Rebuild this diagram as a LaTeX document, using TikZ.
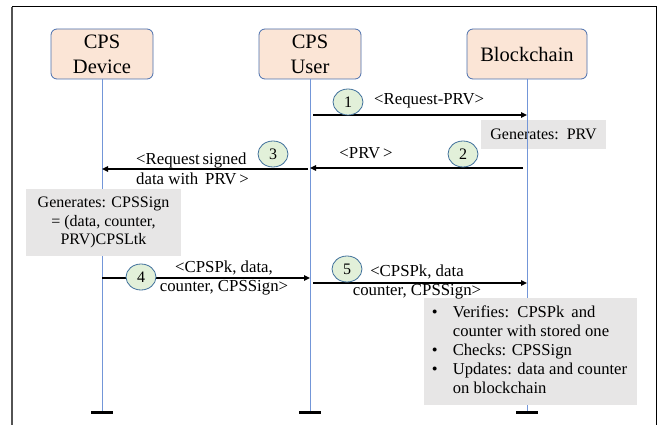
\documentclass[tikz,border=0pt]{standalone}
\usepackage{fontspec}
\setmainfont{Liberation Serif}
\usetikzlibrary{arrows.meta,shapes.geometric}

\definecolor{headfill}{HTML}{FBE5D6}
\definecolor{headline}{HTML}{4A6FAE}
\definecolor{lifeblue}{HTML}{7396D8}
\definecolor{stepfill}{HTML}{E2F0D9}
\definecolor{stepline}{HTML}{41719C}
\definecolor{notefill}{HTML}{E7E6E6}

\tikzset{
  actor/.style={draw=headline, fill=headfill, rounded corners=6pt, line width=0.8pt,
    minimum height=50pt, align=center, inner sep=0pt,
    font=\fontsize{20.5}{25}\selectfont},
  lifeline/.style={draw=lifeblue, line width=0.9pt},
  endbar/.style={fill=black, draw=none, minimum width=22pt, minimum height=3pt, inner sep=0pt},
  note/.style={fill=notefill, draw=none, inner sep=0pt, align=center,
    font=\fontsize{16}{18.5}\selectfont},
  msg/.style={draw=black, line width=1.3pt, -{Triangle[length=6pt,width=5.5pt]}},
  stepno/.style={ellipse, draw=stepline, fill=stepfill, line width=0.8pt,
    minimum width=30pt, minimum height=26pt, inner sep=0pt,
    font=\fontsize{16}{18}\selectfont},
  msglabel/.style={inner sep=0pt, font=\fontsize{16.8}{19.5}\selectfont},
}

\begin{document}
\begin{tikzpicture}[x=1pt, y=-1pt]
\useasboundingbox (0,0) rectangle (661,425);
\fill[white] (0,0) rectangle (661,425);

% outer frame
\draw[gray!65!black, line width=1.6pt] (12,425) -- (12,7);
\draw[black, line width=1pt] (12,7) -- (656,7) -- (656,425);

% participants
\node[actor, minimum width=102pt] (dev) at (102,54) {CPS\\Device};
\node[actor, minimum width=102pt] (usr) at (310,54) {CPS\\User};
\node[actor, minimum width=120pt] (bc)  at (527,54) {Blockchain};

% note drawn beneath the lifeline
\node[note, minimum width=125pt, minimum height=29pt] (genprv) at (543.5,134.5) {Generates: \,PRV};

% lifeline ends
\node[endbar] (devend) at (102,412) {};
\node[endbar] (usrend) at (310,412) {};
\node[endbar] (bcend)  at (527,412) {};

\draw[lifeline] (dev.south) -- (devend.center);
\draw[lifeline] (usr.south) -- (usrend.center);
\draw[lifeline] (bc.south)  -- (bcend.center);
\node[endbar] at (devend) {};
\node[endbar] at (usrend) {};
\node[endbar] at (bcend) {};

% notes drawn over the lifelines
\node[note, minimum width=155pt, minimum height=67pt] (gensign) at (103.5,222.5)
  {Generates: CPSSign\\= (data, counter,\\PRV)CPSLtk};
\node[note, minimum width=213pt, minimum height=107pt, align=left] (checks) at (530.5,351.5)
  {\renewcommand{\arraystretch}{1}%
   \fontsize{16.6}{19}\selectfont
   \begin{tabular}{@{}p{21pt}@{}l@{}}
   \textbullet & Verifies: \,CPSPk \,and\\
               & counter with stored one\\
   \textbullet & Checks: CPSSign\\
   \textbullet & Updates: data and counter\\
               & on blockchain
   \end{tabular}\hspace*{2pt}};

% message end points on the lifelines
\coordinate (m1s) at (313,115);  \coordinate (m1e) at (527,115);
\coordinate (m2s) at (523,168);  \coordinate (m2e) at (310,168);
\coordinate (m3s) at (308,169);  \coordinate (m3e) at (102,169);
\coordinate (m4s) at (102,278);  \coordinate (m4e) at (310,278);
\coordinate (m5s) at (313,283);  \coordinate (m5e) at (527,283);

\draw[msg] (m1s) -- (m1e);
\draw[msg] (m2s) -- (m2e);
\draw[msg] (m3s) -- (m3e);
\draw[msg] (m4s) -- (m4e);
\draw[msg] (m5s) -- (m5e);

% step numbers
\node[stepno] (s1) at (348,102) {1};
\node[stepno] (s2) at (463,154) {2};
\node[stepno] (s3) at (273,154) {3};
\node[stepno] (s4) at (141,277) {4};
\node[stepno] (s5) at (347,269) {5};

% message labels
\node[msglabel, anchor=west] (l1) at (374,101) {<Request-PRV>};
\node[msglabel] (l2) at (366,153) {<PRV\,>};
\node[msglabel, anchor=west, align=left] (l3) at (136,169) {<Request\,signed\\data with \,PRV\,>};
\node[msglabel, align=center] (l4) at (224,278) {<CPSPk, data,\\counter, CPSSign>};
\node[msglabel, align=center] (l5) at (417,282) {<CPSPk, data\\counter, CPSSign>};

\end{tikzpicture}
\end{document}
